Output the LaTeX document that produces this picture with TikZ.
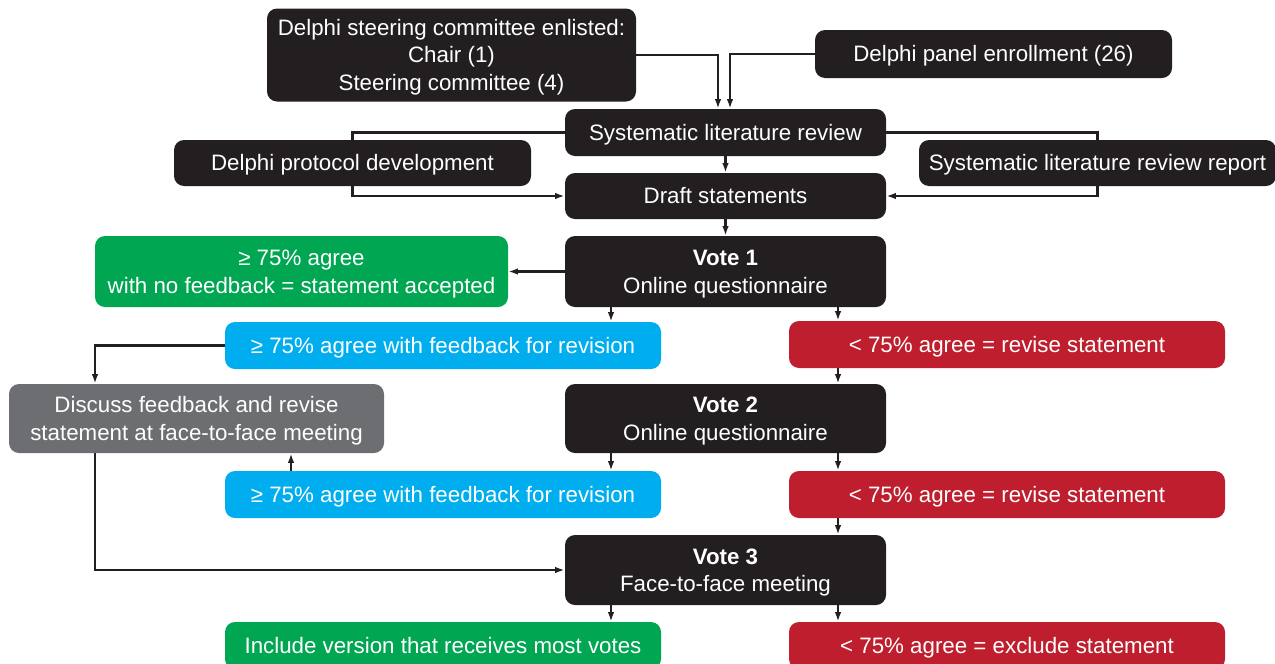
\documentclass[tikz,border=0pt]{standalone}
\usepackage{fontspec}
\setmainfont{Liberation Sans}
\usetikzlibrary{arrows.meta,backgrounds,calc}

\definecolor{boxblack}{HTML}{231F20}
\definecolor{boxgreen}{HTML}{00A651}
\definecolor{boxblue}{HTML}{00AEEF}
\definecolor{boxred}{HTML}{BE1E2D}
\definecolor{boxgrey}{HTML}{6D6E71}

% strut that gives the first line of a box a fixed height
\newcommand{\capstrut}{\rule{0pt}{12.5pt}}

\tikzset{
  box/.style={rounded corners=0.2cm, inner sep=0pt, align=center, text=white,
    font=\fontsize{12.7}{15.8}\selectfont,
    % even struts so the capitals sit in the middle of the box
    execute at begin node={\capstrut},
    execute at end node={\rule[-3.5pt]{0pt}{0pt}}},
  sz/.style 2 args={minimum width=#1*0.02cm, minimum height=#2*0.02cm},
  blackbox/.style={box, fill=boxblack},
  greenbox/.style={box, fill=boxgreen},
  bluebox/.style={box, fill=boxblue},
  redbox/.style={box, fill=boxred},
  greybox/.style={box, fill=boxgrey},
  arr/.style={draw=boxblack, line width=1.4pt, -{Latex[length=0.19cm,width=0.13cm]}}
}

\begin{document}
\begin{tikzpicture}[x=0.02cm, y=-0.02cm]
\useasboundingbox (0,0) rectangle (1275,663);

% setup stage
\node[blackbox, sz={369}{93}] (steer) at (451.5,55)
  {\capstrut Delphi steering committee enlisted:\\Chair (1)\\Steering committee (4)};
\node[blackbox, sz={357}{48}] (panel) at (993.5,54) {Delphi panel enrollment (26)};
\node[blackbox, sz={321}{47}] (slr) at (725.5,132.5) {Systematic literature review};
\node[blackbox, sz={357}{46}] (proto) at (352.5,163) {Delphi protocol development};
\node[blackbox, sz={357}{46}] (report) at (1097.5,163) {Systematic literature review report};
\node[blackbox, sz={321}{46}] (draft) at (725.5,196) {Draft statements};

% first vote
\node[blackbox, sz={321}{71}] (vote1) at (725.5,271.5)
  {\capstrut\textbf{Vote 1}\\Online questionnaire};
\node[greenbox, sz={413}{71}] (accept) at (301.5,271.5)
  {\capstrut ≥ 75\% agree\\with no feedback = statement accepted};
\node[bluebox, sz={436}{47}] (fb1) at (443,345.5) {≥ 75\% agree with feedback for revision};
\node[redbox, sz={436}{47}] (rev1) at (1007,344.5) {< 75\% agree = revise statement};

% second vote
\node[greybox, sz={375}{69}] (discuss) at (196.5,418.5)
  {\capstrut Discuss feedback and revise\\statement at face-to-face meeting};
\node[blackbox, sz={321}{69}] (vote2) at (725.5,418.5)
  {\capstrut\textbf{Vote 2}\\Online questionnaire};
\node[bluebox, sz={436}{47}] (fb2) at (443,494.5) {≥ 75\% agree with feedback for revision};
\node[redbox, sz={436}{47}] (rev2) at (1007,494.5) {< 75\% agree = revise statement};

% third vote
\node[blackbox, sz={321}{70}] (vote3) at (725.5,570)
  {\capstrut\textbf{Vote 3}\\Face-to-face meeting};
\node[greenbox, sz={436}{47}] (include) at (443,645.5) {Include version that receives most votes};
\node[redbox, sz={436}{47}] (exclude) at (1007,645.5) {< 75\% agree = exclude statement};

% vertical tracks used by the connectors
\coordinate (xl) at (611,0);
\coordinate (xr) at (838,0);
\coordinate (gx) at (95,0);
\coordinate (bx) at (291,0);
\coordinate (sx) at (718,0);
\coordinate (px) at (730,0);

\begin{pgfonlayer}{background}
  \draw[arr] (steer.east) -| (slr.north -| sx);
  \draw[arr] (panel.west) -| (slr.north -| px);
  \draw[arr] (slr) -- (draft);
  \draw[arr] (slr.west) -| (proto.center) |- (draft.west);
  \draw[arr] (slr.east) -| (report.center) |- (draft.east);
  \draw[arr] (draft) -- (vote1);

  \draw[arr] (vote1.west) -- (accept.east);
  \draw[arr] (vote1.south -| xl) -- (fb1.north -| xl);
  \draw[arr] (vote1.south -| xr) -- (rev1.north -| xr);
  \draw[arr] (fb1.west) -| (discuss.north -| gx);
  \draw[arr] (rev1.south -| xr) -- (vote2.north -| xr);

  \draw[arr] (vote2.south -| xl) -- (fb2.north -| xl);
  \draw[arr] (vote2.south -| xr) -- (rev2.north -| xr);
  \draw[arr] (fb2.north -| bx) -- (discuss.south -| bx);
  \draw[arr] (discuss.south -| gx) |- (vote3.west);
  \draw[arr] (rev2.south -| xr) -- (vote3.north -| xr);

  \draw[arr] (vote3.south -| xl) -- (include.north -| xl);
  \draw[arr] (vote3.south -| xr) -- (exclude.north -| xr);
\end{pgfonlayer}
\end{tikzpicture}
\end{document}
